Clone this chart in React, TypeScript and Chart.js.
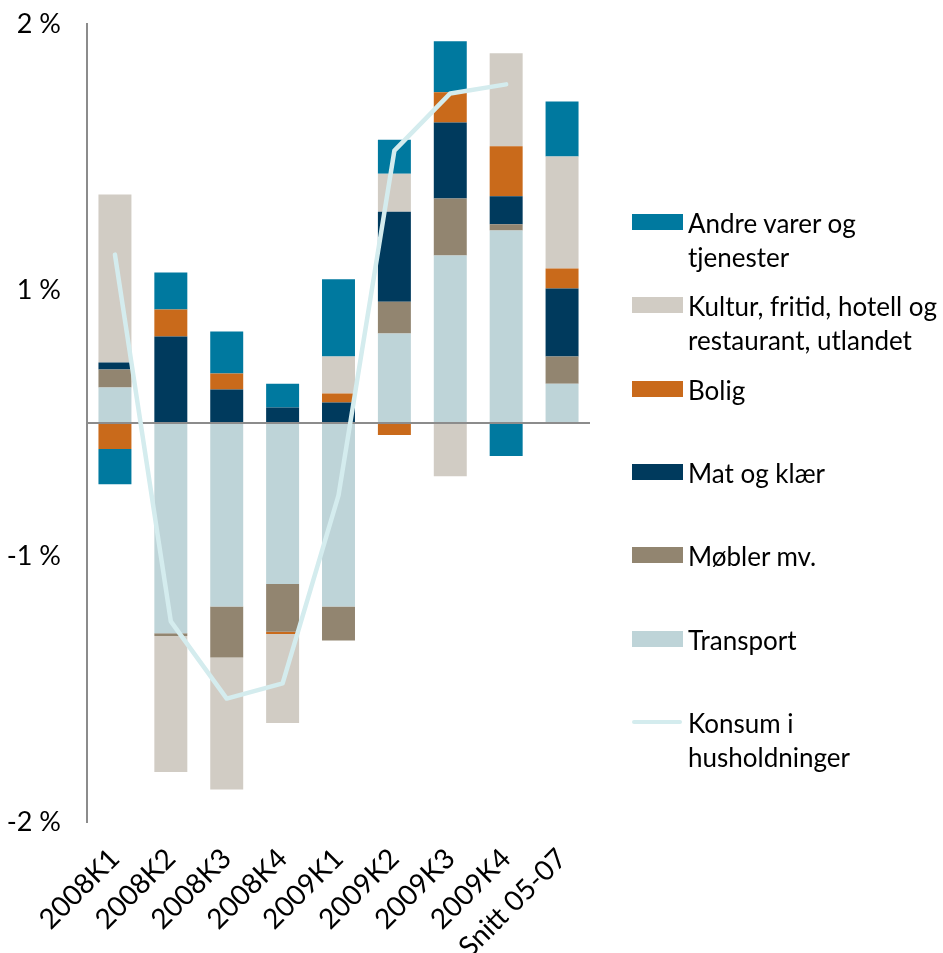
import React, { useEffect, useRef } from "react";
import { Chart, registerables } from "chart.js";

Chart.register(...registerables);

const categories = ["2008K1", "2008K2", "2008K3", "2008K4", "2009K1", "2009K2", "2009K3", "2009K4", "Snitt 05-07"];

// Contributions, percentage points (stacking order: Transport at the bottom)
const transport = [0.133, -0.79, -0.69, -0.605, -0.69, 0.336, 0.63, 0.724, 0.148];
const mobler = [0.068, -0.011, -0.192, -0.18, -0.128, 0.12, 0.214, 0.023, 0.102];
const matOgKlaer = [0.026, 0.325, 0.126, 0.058, 0.077, 0.338, 0.286, 0.105, 0.256];
const bolig = [-0.098, 0.102, 0.06, -0.008, 0.034, -0.045, 0.113, 0.188, 0.075];
const kultur = [0.632, -0.511, -0.496, -0.335, 0.139, 0.143, -0.2, 0.35, 0.421];
const andre = [-0.132, 0.139, 0.158, 0.09, 0.29, 0.128, 0.192, -0.124, 0.207];
const konsum: (number | null)[] = [0.633, -0.746, -1.036, -0.979, -0.272, 1.024, 1.239, 1.273, null];

const barSeriesNames = ["Transport", "Møbler mv.", "Mat og klær", "Bolig", "Kultur, fritid, hotell og\nrestaurant, utlandet", "Andre varer og\ntjenester"];
const barSeriesValues = [transport, mobler, matOgKlaer, bolig, kultur, andre];
const barColors = ["#bed4d8", "#928570", "#003a5d", "#c96a1b", "#d1ccc4", "#00799f"];
const lineName = "Konsum i\nhusholdninger";
const lineColor = "#d4ecee";

const yTickValues = [-1.5, -0.5, 0, 0.5, 1.5];
const yTickLabels = ["-2 %", "-1 %", "", "1 %", "2 %"];

const FONT = "Lato, 'DejaVu Sans', sans-serif";

export default function App() {
  const canvasRef = useRef<HTMLCanvasElement | null>(null);

  useEffect(() => {
    let chart: Chart | null = null;
    let cancelled = false;
    const build = () => {
      if (cancelled || !canvasRef.current) return;
      chart = new Chart(canvasRef.current, {
        type: "bar",
        data: {
          labels: categories,
          datasets: [
            ...barSeriesValues.map((vals, i) => ({
              type: "bar" as const,
              label: barSeriesNames[i].replace("\n", " "),
              data: vals,
              backgroundColor: barColors[i],
              borderWidth: 0,
              stack: "bars",
              order: 1,
              barPercentage: 0.59,
              categoryPercentage: 1.0,
            })),
            {
              type: "line" as const,
              label: lineName.replace("\n", " "),
              data: konsum,
              borderColor: lineColor,
              backgroundColor: lineColor,
              borderWidth: 4.5,
              pointRadius: 0,
              tension: 0,
              stack: "line",
              order: 0,
              borderCapStyle: "round",
              borderJoinStyle: "round",
            } as any,
          ],
        },
        options: {
          animation: false,
          responsive: false,
          maintainAspectRatio: false,
          layout: { padding: { left: 0, right: 353, top: 24, bottom: 0 } },
          plugins: { legend: { display: false }, tooltip: { enabled: false } },
          scales: {
            x: {
              stacked: true,
              grid: { display: false },
              border: { display: false },
              ticks: {
                autoSkip: false,
                maxRotation: 45,
                minRotation: 45,
                color: "#000",
                padding: 12,
                font: { family: FONT, size: 28 },
              },
              afterFit: (scale: any) => {
                scale.height = 131;
              },
            },
            y: {
              stacked: true,
              min: -1.5,
              max: 1.5,
              afterBuildTicks: (scale: any) => {
                scale.ticks = yTickValues.map((v) => ({ value: v }));
              },
              afterFit: (scale: any) => {
                scale.width = 87;
              },
              ticks: {
                color: "#000",
                padding: 0,
                font: { family: FONT, size: 27 },
                callback: (value: any) => {
                  const idx = yTickValues.indexOf(Number(value));
                  return idx >= 0 ? yTickLabels[idx] : "";
                },
              },
              grid: {
                drawTicks: true,
                tickLength: 26,
                tickColor: "rgba(0,0,0,0)",
                lineWidth: 2,
                color: (ctx: any) => (ctx.tick && ctx.tick.value === 0 ? "#8c8c8c" : "rgba(0,0,0,0)"),
              },
              border: { display: true, color: "#8c8c8c", width: 2 },
            },
          },
        },
      });
    };
    const fontsAny = (document as any).fonts;
    if (fontsAny && fontsAny.load) {
      fontsAny.load("27px Lato").then(build, build);
    } else {
      build();
    }
    return () => {
      cancelled = true;
      if (chart) chart.destroy();
    };
  }, []);

  const legendItems = [
    ...barSeriesNames.map((n, i) => ({ name: n, color: barColors[i], line: false })).reverse(),
    { name: lineName, color: lineColor, line: true },
  ];

  return (
    <div style={{ position: "fixed", left: 0, top: 0, width: 943, height: 953, background: "#fff", overflow: "hidden" }}>
      <canvas ref={canvasRef} width={943} height={953} style={{ position: "absolute", left: 0, top: 0, width: 943, height: 953 }} />
      {legendItems.map((item, i) => {
        const cy = 223 + 83.3 * i;
        return (
          <React.Fragment key={i}>
            {item.line ? (
              <div style={{ position: "absolute", left: 632, top: cy - 3, width: 50, height: 4, borderRadius: 2, background: item.color }} />
            ) : (
              <div style={{ position: "absolute", left: 632, top: cy - 9, width: 51, height: 16, background: item.color }} />
            )}
            <div
              style={{
                position: "absolute",
                left: 688,
                top: cy - 17,
                fontFamily: FONT,
                fontSize: 26,
                lineHeight: "34px",
                color: "#000",
                whiteSpace: "pre",
              }}
            >
              {item.name}
            </div>
          </React.Fragment>
        );
      })}
    </div>
  );
}
